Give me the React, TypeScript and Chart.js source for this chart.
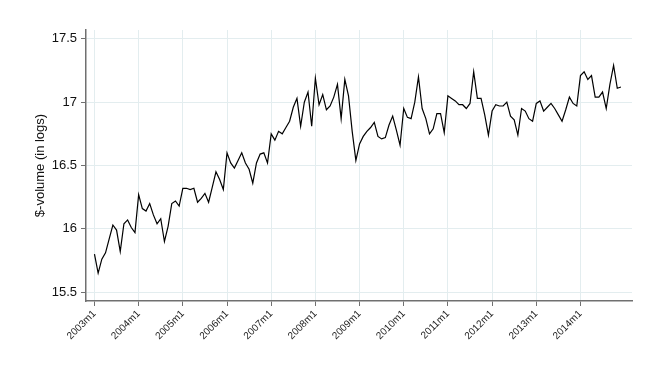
import React, { useEffect, useRef } from "react";
import { Chart, registerables } from "chart.js";

Chart.register(...registerables);

const yearTickLabels = ["2003m1", "2004m1", "2005m1", "2006m1", "2007m1", "2008m1", "2009m1", "2010m1", "2011m1", "2012m1", "2013m1", "2014m1"];
const yTickValues = [15.5, 16, 16.5, 17, 17.5];
const yTickLabels = ["15.5", "16", "16.5", "17", "17.5"];

const v2003 = [15.80, 15.65, 15.76, 15.81, 15.92, 16.03, 15.99, 15.82, 16.04, 16.07, 16.01, 15.97];
const v2004 = [16.27, 16.16, 16.14, 16.20, 16.11, 16.04, 16.08, 15.90, 16.02, 16.20, 16.22, 16.18];
const v2005 = [16.32, 16.32, 16.31, 16.32, 16.21, 16.24, 16.28, 16.21, 16.33, 16.45, 16.39, 16.31];
const v2006 = [16.60, 16.52, 16.48, 16.54, 16.60, 16.52, 16.47, 16.36, 16.52, 16.59, 16.60, 16.52];
const v2007 = [16.75, 16.70, 16.77, 16.75, 16.80, 16.85, 16.96, 17.03, 16.81, 17.00, 17.08, 16.81];
const v2008 = [17.19, 16.98, 17.06, 16.94, 16.97, 17.04, 17.14, 16.87, 17.18, 17.05, 16.77, 16.54];
const v2009 = [16.67, 16.73, 16.77, 16.80, 16.84, 16.73, 16.71, 16.72, 16.82, 16.89, 16.78, 16.66];
const v2010 = [16.95, 16.88, 16.87, 17.00, 17.20, 16.95, 16.87, 16.75, 16.79, 16.91, 16.91, 16.76];
const v2011 = [17.05, 17.03, 17.01, 16.98, 16.98, 16.95, 16.99, 17.24, 17.03, 17.03, 16.90, 16.74];
const v2012 = [16.93, 16.98, 16.97, 16.97, 17.00, 16.89, 16.86, 16.74, 16.95, 16.93, 16.87, 16.85];
const v2013 = [16.99, 17.01, 16.93, 16.96, 16.99, 16.95, 16.90, 16.85, 16.94, 17.04, 16.99, 16.97];
const v2014 = [17.21, 17.24, 17.18, 17.21, 17.04, 17.04, 17.08, 16.95, 17.14, 17.29, 17.11, 17.12];

const yearlyValues = [v2003, v2004, v2005, v2006, v2007, v2008, v2009, v2010, v2011, v2012, v2013, v2014];

export default function App() {
  const canvasRef = useRef<HTMLCanvasElement | null>(null);

  useEffect(() => {
    document.body.style.margin = "0";
    const canvas = canvasRef.current;
    if (!canvas) return;
    const points: { x: number; y: number }[] = [];
    yearlyValues.forEach((arr, yi) => {
      arr.forEach((v, m) => points.push({ x: yi * 12 + m, y: v }));
    });
    const xTickValues = yearTickLabels.map((_, i) => i * 12);
    const font = "'Liberation Sans', Arial, Helvetica, sans-serif";
    const gridColor = "#e3edef";
    const axisColor = "#707070";

    const chart = new Chart(canvas, {
      type: "line",
      data: {
        datasets: [
          {
            data: points,
            borderColor: "#000000",
            borderWidth: 1.2,
            pointRadius: 0,
            fill: false,
            tension: 0,
          },
        ],
      },
      options: {
        animation: false,
        responsive: false,
        maintainAspectRatio: false,
        layout: { padding: { top: 30, right: 28, left: 0, bottom: 0 } },
        plugins: { legend: { display: false }, tooltip: { enabled: false } },
        scales: {
          x: {
            type: "linear",
            min: -2.3,
            max: 146,
            afterBuildTicks: (scale: any) => {
              scale.ticks = xTickValues.map((v) => ({ value: v }));
            },
            afterFit: (scale: any) => {
              scale.height = 76;
            },
            ticks: {
              autoSkip: false,
              maxRotation: 45,
              minRotation: 45,
              padding: 2,
              color: "#222",
              font: { family: font, size: 10 },
              callback: (value: any) => {
                const idx = Math.round(Number(value) / 12);
                return yearTickLabels[idx] ?? "";
              },
            },
            grid: {
              color: gridColor,
              lineWidth: 1,
              tickColor: axisColor,
              tickLength: 5,
              drawTicks: true,
            },
            border: { color: axisColor, width: 1.5 },
          },
          y: {
            type: "linear",
            min: 15.43,
            max: 17.57,
            afterBuildTicks: (scale: any) => {
              scale.ticks = yTickValues.map((v) => ({ value: v }));
            },
            afterFit: (scale: any) => {
              scale.width = 86;
            },
            ticks: {
              padding: 4,
              color: "#111",
              font: { family: font, size: 13 },
              callback: (value: any) => {
                const idx = yTickValues.indexOf(Number(value));
                return idx >= 0 ? yTickLabels[idx] : "";
              },
            },
            title: {
              display: true,
              text: "$-volume (in logs)",
              color: "#111",
              font: { family: font, size: 13 },
              padding: { top: 33, bottom: 0 },
            },
            grid: {
              color: gridColor,
              lineWidth: 1,
              tickColor: axisColor,
              tickLength: 5,
            },
            border: { color: axisColor, width: 1.5 },
          },
        },
      },
    });
    return () => chart.destroy();
  }, []);

  return <canvas ref={canvasRef} width={660} height={377} style={{ display: "block" }} />;
}
